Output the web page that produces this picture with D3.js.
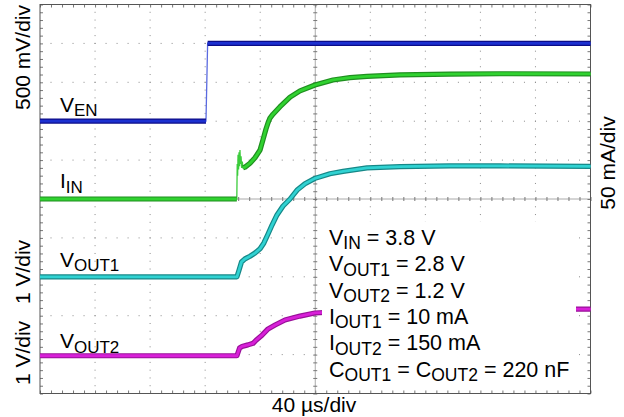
<!DOCTYPE html>
<html>
<head>
<meta charset="utf-8">
<script src="https://cdn.jsdelivr.net/npm/d3@7"></script>
<style>
  html, body { margin: 0; padding: 0; background: #fff; }
  svg { display: block; }
  text { font-family: "Liberation Sans", Arial, Helvetica, sans-serif; fill: #000; }
</style>
</head>
<body>
<svg id="chart" width="624" height="417"></svg>
<script>
// ---------------- DATA ----------------
// time axis in microseconds (40 us/div, 10 divisions)
const timeDomain = [0, 400];
const divDomain = [0, 10];

// V_EN  (500 mV/div, baseline at division 7)
const venT = [0, 120.6, 121.2, 121.8, 400];
const venV = [0, 0, 0.5, 1.0, 1.0];

// I_IN  (50 mA/div, baseline at division 5)
const iinT  = [0, 143.0, 143.3, 143.6, 143.9, 144.3, 144.6, 145.0, 145.3, 145.7, 146.1, 146.5, 147.0, 147.5,
               149.0, 152.6, 156.2, 159.9, 162.0, 164.2, 165.7, 167.1, 169.3, 174.4, 181.7, 188.9, 199.8,
               212.9, 225.2, 237.6, 261.6, 297.9, 334.2, 400];
const iinMA = [0, 0, 45, 30, 57, 38, 60, 42, 63, 45, 55, 40, 48, 40,
               41, 46, 53, 63, 76, 90, 98, 104, 109, 118.6, 131, 139, 146.5,
               153, 156, 157.5, 159.5, 160.5, 161, 160.7];

// V_OUT1 (1 V/div, baseline at division 3)
const vout1T = [0, 143.1, 144.6, 146.4, 148.9, 152.6, 156.2, 159.9, 162.7, 165.7, 168.6, 172.2, 176.6,
                181.7, 186.8, 192.5, 199.8, 210.7, 220.2, 237.6, 261.6, 297.9, 334.2, 400];
const vout1V = [0, 0, 0.17, 0.38, 0.46, 0.53, 0.61, 0.72, 0.87, 1.10, 1.33, 1.59, 1.82,
                2.00, 2.23, 2.39, 2.53, 2.65, 2.71, 2.80, 2.83, 2.85, 2.85, 2.84];

// V_OUT2 (1 V/div, baseline just below division 1)
const vout2T = [0, 143.1, 145.0, 146.8, 151.1, 154.8, 157.0, 161.3, 165.7, 170.8, 178.0, 188.9, 199.8,
                225.2, 261.6, 334.2, 400];
const vout2V = [0, 0, 0.20, 0.24, 0.28, 0.32, 0.40, 0.53, 0.69, 0.79, 0.92, 1.02, 1.10,
                1.15, 1.19, 1.20, 1.20];

// channel labels, scale labels and conditions text
const channelNames = [["V", "EN"], ["I", "IN"], ["V", "OUT1"], ["V", "OUT2"]];
const scaleLabels = ["500 mV/div", "50 mA/div", "1 V/div", "1 V/div", "40 \u00b5s/div"];
const conditionLines = [
  [["V", ""], ["IN", "sub"], [" = 3.8 V", ""]],
  [["V", ""], ["OUT1", "sub"], [" = 2.8 V", ""]],
  [["V", ""], ["OUT2", "sub"], [" = 1.2 V", ""]],
  [["I", ""], ["OUT1", "sub"], [" = 10 mA", ""]],
  [["I", ""], ["OUT2", "sub"], [" = 150 mA", ""]],
  [["C", ""], ["OUT1", "sub"], [" = C", ""], ["OUT2", "sub"], [" = 220 nF", ""]]
];

// ---------------- CHART ----------------
const svg = d3.select("#chart");
const L = 40, R = 590.5, T = 4.5, B = 393.5;
const x = d3.scaleLinear().domain(timeDomain).range([L, R]);
const y = d3.scaleLinear().domain(divDomain).range([B, T]);

const minorT = d3.range(0, 400.001, 8);
const minorD = d3.range(0, 10.001, 0.2);
const majorT = d3.range(40, 400, 40);
const majorD = d3.range(1, 10, 1);

// grid dots
const gDots = svg.append("g").attr("fill", "#8a8a8a");
majorT.filter(t => t !== 200).forEach(t => {
  gDots.selectAll(null).data(minorD.slice(1, -1)).enter().append("rect")
    .attr("x", x(t) - 0.5).attr("y", d => y(d) - 0.5).attr("width", 1).attr("height", 1);
});
majorD.filter(d => d !== 5).forEach(d => {
  gDots.selectAll(null).data(minorT.slice(1, -1)).enter().append("rect")
    .attr("x", t => x(t) - 0.5).attr("y", y(d) - 0.5).attr("width", 1).attr("height", 1);
});

// center cross lines with minor ticks
function styleAxis(g) {
  g.select(".domain").remove();
  g.selectAll("text").remove();
  g.selectAll("line").attr("stroke", "#777").attr("stroke-width", 1);
}
svg.append("line").attr("x1", L).attr("x2", R).attr("y1", y(5)).attr("y2", y(5))
  .attr("stroke", "#aaa").attr("stroke-width", 1);
svg.append("line").attr("x1", x(200)).attr("x2", x(200)).attr("y1", T).attr("y2", B)
  .attr("stroke", "#aaa").attr("stroke-width", 1);
svg.append("g").attr("transform", `translate(0,${y(5) - 2})`)
  .call(d3.axisBottom(x).tickValues(minorT).tickSize(4).tickFormat("")).call(styleAxis);
svg.append("g").attr("transform", `translate(${x(200) - 2},0)`)
  .call(d3.axisRight(y).tickValues(minorD).tickSize(4).tickFormat("")).call(styleAxis);

// border ticks (pointing inward)
svg.append("g").attr("transform", `translate(0,${T})`)
  .call(d3.axisTop(x).tickValues(minorT).tickSize(-3).tickFormat("")).call(styleAxis);
svg.append("g").attr("transform", `translate(0,${B})`)
  .call(d3.axisBottom(x).tickValues(minorT).tickSize(-3).tickFormat("")).call(styleAxis);
svg.append("g").attr("transform", `translate(${L},0)`)
  .call(d3.axisLeft(y).tickValues(minorD).tickSize(-3).tickFormat("")).call(styleAxis);
svg.append("g").attr("transform", `translate(${R},0)`)
  .call(d3.axisRight(y).tickValues(minorD).tickSize(-3).tickFormat("")).call(styleAxis);

// frame
svg.append("rect").attr("x", L).attr("y", T).attr("width", R - L).attr("height", B - T)
  .attr("fill", "none").attr("stroke", "#555").attr("stroke-width", 1);

// traces
const channels = [
  { t: venT,   v: venV,   offset: 7,    perDiv: 0.5, outer: "#0c0c88", inner: "#1c30d0", thin: "#5a6ae0" },
  { t: iinT,   v: iinMA,  offset: 5,    perDiv: 50,  outer: "#1f8f1f", inner: "#30d230", thin: "#3ccc3c" },
  { t: vout1T, v: vout1V, offset: 3,    perDiv: 1,   outer: "#168888", inner: "#30d2d2", thin: "#30d2d2" },
  { t: vout2T, v: vout2V, offset: 0.97, perDiv: 1,   outer: "#991099", inner: "#d820d8", thin: "#d820d8" }
];
const line = d3.line().x(d => d[0]).y(d => d[1]);
channels.forEach(ch => {
  const pts = ch.t.map((t, i) => [x(t), y(ch.offset + ch.v[i] / ch.perDiv)]);
  // thin full trace (fast edges)
  svg.append("path").attr("d", line(pts)).attr("fill", "none")
    .attr("stroke", ch.thin).attr("stroke-width", 1.3);
  // thick runs where the trace is not a fast edge
  const runs = [];
  let cur = [pts[0]];
  for (let i = 1; i < pts.length; i++) {
    const dx = Math.abs(pts[i][0] - pts[i - 1][0]), dy = Math.abs(pts[i][1] - pts[i - 1][1]);
    if (dy > 6 && dy > 6 * dx) {
      if (cur.length > 1) runs.push(cur);
      cur = [pts[i]];
    } else cur.push(pts[i]);
  }
  if (cur.length > 1) runs.push(cur);
  runs.forEach(r => {
    svg.append("path").attr("d", line(r)).attr("fill", "none")
      .attr("stroke", ch.outer).attr("stroke-width", 5.2).attr("stroke-linejoin", "round");
    svg.append("path").attr("d", line(r)).attr("fill", "none")
      .attr("stroke", ch.inner).attr("stroke-width", 2.8).attr("stroke-linejoin", "round");
  });
});

// channel labels
const labelPos = [[x(14.5), 111.7], [x(14.5), 188.3], [x(14.5), 266.7], [x(14.5), 348.3]];
channelNames.forEach((n, i) => {
  const t = svg.append("text").attr("x", labelPos[i][0]).attr("y", labelPos[i][1]).style("font-size", "21px");
  t.append("tspan").text(n[0]);
  t.append("tspan").attr("dy", 4.2).style("font-size", "17px").text(n[1]);
});

// conditions box
svg.append("rect").attr("x", 322).attr("y", 222).attr("width", 254).attr("height", 166).attr("fill", "#fff");
conditionLines.forEach((ln, i) => {
  const t = svg.append("text").attr("x", 329).attr("y", 245 + i * 26.35).style("font-size", "21.5px");
  let shifted = false;
  ln.forEach(([s, k]) => {
    const sp = t.append("tspan").text(s);
    if (k === "sub") { sp.style("font-size", "17.5px").attr("dy", shifted ? 0 : 4.3); shifted = true; }
    else { if (shifted) sp.attr("dy", -4.3); shifted = false; }
  });
});

// scale labels
const rot = [[30, 57.5], [615, 163], [30, 272], [30, 353]];
rot.forEach((p, i) => {
  svg.append("text").attr("transform", `translate(${p[0]},${p[1]}) rotate(-90)`)
    .attr("text-anchor", "middle").style("font-size", "21px").text(scaleLabels[i]);
});
svg.append("text").attr("x", 314).attr("y", 411.5).attr("text-anchor", "middle")
  .style("font-size", "21px").text(scaleLabels[4]);
</script>
</body>
</html>
